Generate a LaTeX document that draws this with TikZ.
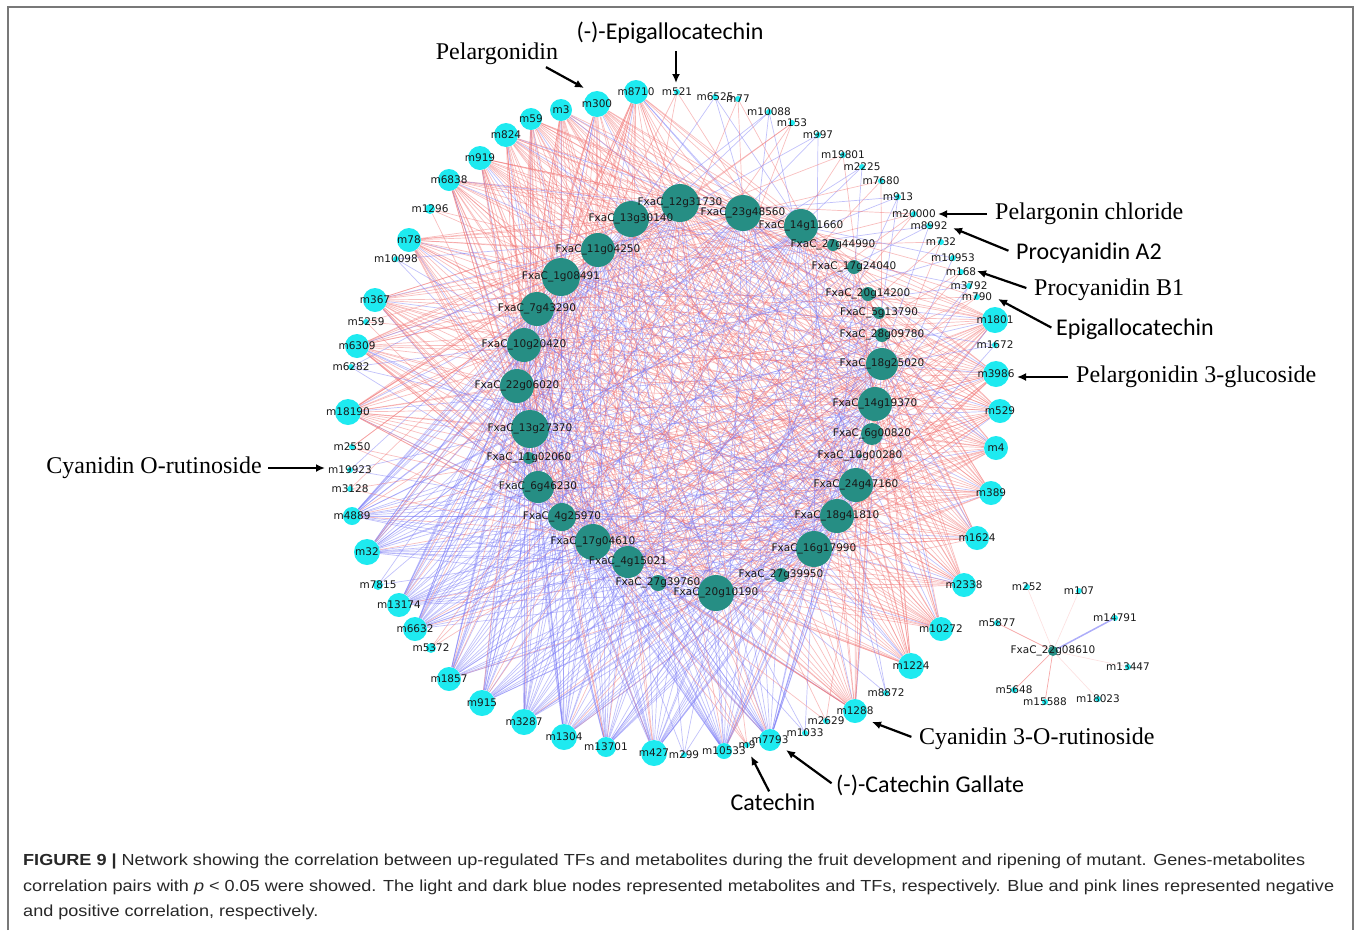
\documentclass[tikz,border=0pt]{standalone}
\usepackage{fontspec}
\setmainfont{Liberation Serif}
\newfontfamily\lblfont{DejaVu Sans}
\newfontfamily\annfont{Carlito}
\newfontfamily\capfont[FakeStretch=1.13]{Liberation Sans}
\usepackage{tikz}
\usetikzlibrary{arrows.meta,backgrounds}

\definecolor{metcyan}{RGB}{30,234,240}
\definecolor{tfteal}{RGB}{38,142,132}
\definecolor{poscol}{RGB}{240,112,112}
\definecolor{negcol}{RGB}{118,118,245}
\definecolor{framegray}{RGB}{120,120,120}
\definecolor{captext}{RGB}{40,40,40}

% big metabolites: name/x/y/radius
\def\bigmet{m8710/636/92/12, m300/597/104/13, m3/561/110/11, m59/531/119/11,
  m824/506/135/12, m919/480/158/12, m6838/449/180/11, m78/409/240/12,
  m367/375/300/12, m6309/357/346/12, m18190/348/412/13, m4889/352/516/9,
  m32/367/552/13, m13174/399/605/12, m6632/415/629/12, m1857/449/679/12,
  m915/482/703/13, m3287/524/722/13, m1304/564/737/13, m13701/606/747/10,
  m427/654/753/13, m10533/724/751/8, m7793/770/740/11, m1288/855/711/12,
  m1224/911/666/13, m10272/941/629/12, m2338/964/585/12, m1624/977/538/12,
  m389/991/493/12, m4/996/448/12, m529/1000/411/12, m3986/996/374/13,
  m1801/995/320/13, m1296/430/209/5, m7815/378/585/5, m5372/431/648/5}
% tiny metabolites
\def\tinymet{m521/677/92, m6525/715/97, m77/738/99, m10088/769/112, m153/792/123,
  m997/818/135, m19801/843/155, m2225/862/167, m7680/881/181, m913/898/197,
  m20000/914/214, m8992/929/226, m732/941/242, m10953/953/258, m168/961/272,
  m3792/969/286, m790/977/297, m1672/995/345, m10098/396/259, m5259/366/322,
  m6282/351/367, m2550/352/447, m19923/350/470, m3128/350/489, m299/684/755,
  m9/747/745, m1033/805/733, m2629/826/721, m8872/886/693,
  m252/1027/587, m107/1079/591, m14791/1115/618, m5877/997/623,
  m13447/1128/667, m18023/1098/699, m15588/1045/702, m5648/1014/690}
% TFs: gene/x/y/radius
\def\tfs{12g31730/680/203/19, 13g30140/631/219/18, 23g48560/743/213/18,
  14g11660/801/226/17, 27g44990/833/245/6, 11g04250/598/250/17,
  17g24040/854/267/7, 1g08491/561/277/19, 20g14200/868/294/7,
  7g43290/537/309/17, 5g13790/879/313/6, 28g09780/882/335/7,
  10g20420/524/345/17, 18g25020/882/364/16, 22g06020/517/386/17,
  14g19370/875/404/17, 13g27370/530/429/19, 6g00820/872/434/11,
  11g02060/529/458/6, 10g00280/860/456/2, 6g46230/538/487/16,
  24g47160/856/485/17, 4g25970/562/517/14, 18g41810/837/516/17,
  17g04610/593/542/18, 16g17990/814/549/18, 4g15021/628/562/16,
  27g39760/658/583/8, 27g39950/781/575/7, 20g10190/716/593/18,
  22g08610/1053/651/5}
\def\bigtf{12g31730,13g30140,23g48560,14g11660,11g04250,1g08491,7g43290,
  10g20420,18g25020,22g06020,14g19370,13g27370,6g46230,24g47160,4g25970,
  18g41810,17g04610,16g17990,4g15021,20g10190}
\def\smalltf{27g44990,17g24040,20g14200,5g13790,28g09780,6g00820,11g02060,
  10g00280,27g39760,27g39950}

\begin{document}
\begin{tikzpicture}[x=1pt,y=-1pt,
    met/.style={circle,fill=metcyan,inner sep=0pt,minimum size=#1},
    tf/.style={circle,fill=tfteal,inner sep=0pt,minimum size=#1},
    lbl/.style={font=\lblfont\fontsize{10.5}{12}\selectfont,inner sep=0pt,text=black!90},
    posline/.style={draw=poscol,line width=0.7pt,opacity=0.45},
    negline/.style={draw=negcol,line width=0.7pt,opacity=0.45},
    serifnote/.style={font=\fontsize{24}{28}\selectfont,inner sep=2pt},
    sansnote/.style={font=\annfont\fontsize{24}{28}\selectfont,inner sep=2pt},
    note/.style={-{Latex[length=9pt,width=8pt]},line width=2.2pt},
    capline/.style={font=\capfont\fontsize{16}{19}\selectfont,text=captext,inner sep=0pt,anchor=west}]

\useasboundingbox (0,0) rectangle (1358,930);
\draw[framegray,line width=2pt] (7.5,930) |- (1353,7) -- (1353,930);

% nodes
\foreach \n/\x/\y/\s in \bigmet
    \node[met=2*\s] (\n) at (\x,\y) {};
\foreach \n/\x/\y in \tinymet
    \node[met=6] (\n) at (\x,\y) {};
\foreach \n/\x/\y/\s in \tfs
    \node[tf=2*\s] (\n) at (\x,\y) {};

% correlation lines
\begin{pgfonlayer}{background}
  \foreach \m [count=\i] in {m8710,m300,m3,m59,m824,m919,m6838,m78,m367,m6309,m18190,
      m1801,m3986,m529,m4,m389,m1624,m2338,m10272,m1224,m1288}{
    \foreach \t [count=\j] in \bigtf {
      \pgfmathtruncatemacro\k{mod(3*\i+7*\j,6)}
      \ifnum\k=0 \draw[negline] (\m) -- (\t); \else \draw[posline] (\m) -- (\t); \fi
    }
    \foreach \t [count=\j] in \smalltf {
      \pgfmathtruncatemacro\k{mod(\i+2*\j,3)}
      \ifnum\k=0 \draw[posline] (\m) -- (\t); \fi
    }
  }
  \foreach \m [count=\i] in {m4889,m32,m13174,m6632,m1857,m915,m3287,m1304,m13701,
      m427,m10533,m7793}{
    \foreach \t [count=\j] in \bigtf {
      \pgfmathtruncatemacro\k{mod(\i+5*\j,7)}
      \ifnum\k=0 \draw[posline] (\m) -- (\t); \else \draw[negline] (\m) -- (\t); \fi
    }
    \foreach \t [count=\j] in \smalltf {
      \pgfmathtruncatemacro\k{mod(\i+\j,3)}
      \ifnum\k=0 \draw[negline] (\m) -- (\t); \fi
    }
  }
  \foreach \m [count=\i] in {m521,m6525,m77,m10088,m153,m997,m19801,m2225,m7680,m913,
      m20000,m8992,m732,m10953,m168,m3792,m790,m1672,m1296,m10098,m5259,m6282,
      m2550,m19923,m3128,m7815,m5372,m299,m9,m1033,m2629,m8872}{
    \foreach \t [count=\j] in \bigtf {
      \pgfmathtruncatemacro\k{mod(\i+\j,6)}
      \pgfmathtruncatemacro\c{mod(\i*\j,4)}
      \ifnum\k=0 \ifnum\c=0 \draw[negline] (\m) -- (\t); \else \draw[posline] (\m) -- (\t); \fi \fi
    }
  }
  \foreach \m in {m5877,m5648,m15588}
    \draw[posline,opacity=0.6] (22g08610) -- (\m);
  \foreach \m in {m252,m107,m13447,m18023}
    \draw[posline,opacity=0.2] (22g08610) -- (\m);
  \draw[negline,opacity=0.6,line width=1.5pt] (22g08610) -- (m14791);
\end{pgfonlayer}

% labels on top
\foreach \n/\x/\y/\s in \bigmet
    \node[lbl] (l\n) at (\n) {\n};
\foreach \n/\x/\y in \tinymet
    \node[lbl] (l\n) at (\n) {\n};
\foreach \n/\x/\y/\s in \tfs
    \node[lbl] (l\n) at (\n) {FxaC\_\n};

% compound names
\node[serifnote] (pelg) at (497,54) {Pelargonidin};
\node[sansnote] (egc) at (670,33) {(-)-Epigallocatechin};
\node[serifnote,anchor=west] (pelchl) at (993,214) {Pelargonin chloride};
\node[sansnote,anchor=west] (pa2) at (1014,253) {Procyanidin A2};
\node[serifnote,anchor=west] (pb1) at (1032,290) {Procyanidin B1};
\node[sansnote,anchor=west] (egc2) at (1054,329) {Epigallocatechin};
\node[serifnote,anchor=west] (pel3g) at (1074,377) {Pelargonidin 3-glucoside};
\node[serifnote,anchor=east] (cyor) at (264,468) {Cyanidin O-rutinoside};
\node[serifnote,anchor=west] (cy3or) at (917,739) {Cyanidin 3-O-rutinoside};
\node[sansnote] (cat) at (773,802) {Catechin};
\node[sansnote,anchor=west] (catg) at (834,785) {(-)-Catechin Gallate};

\coordinate (pelgtip) at (584,88);
\coordinate (egctip) at (676,83);
\coordinate (pelchltip) at (938,214);
\coordinate (pa2tip) at (953,228);
\coordinate (pb1tip) at (977,271);
\coordinate (egc2tip) at (998,299);
\coordinate (pel3gtip) at (1017,377);
\coordinate (cyortip) at (325,468);
\coordinate (cy3ortip) at (872,722);
\coordinate (cattip) at (751,756);
\coordinate (catgtip) at (786,750);

\draw[note] (pelg.-15) -- (pelgtip);
\draw[note,shorten <=5pt] (egc.south -| egctip) -- (egctip);
\draw[note,shorten <=6pt] (pelchl.west) -- (pelchltip);
\draw[note,shorten <=6pt] (pa2.west) -- (pa2tip);
\draw[note,shorten <=6pt] (pb1.west) -- (pb1tip);
\draw[note,shorten <=3pt] (egc2.west) -- (egc2tip);
\draw[note,shorten <=6pt] (pel3g.west) -- (pel3gtip);
\draw[note,shorten <=4pt] (cyor.east) -- (cyortip);
\draw[note,shorten <=6pt] (cy3or.west) -- (cy3ortip);
\draw[note] (cat.110) -- (cattip);
\draw[note,shorten <=3pt] (catg.west) -- (catgtip);

% caption
\node[capline] (cap1) at (23,861) {\textbf{FIGURE 9 |} Network showing the correlation between up-regulated TFs and metabolites during the fruit development and ripening of mutant. Genes-metabolites};
\node[capline] (cap2) at (23,887) {correlation pairs with \textit{p} < 0.05 were showed. The light and dark blue nodes represented metabolites and TFs, respectively. Blue and pink lines represented negative};
\node[capline] (cap3) at (23,912) {and positive correlation, respectively.};
\end{tikzpicture}
\end{document}
